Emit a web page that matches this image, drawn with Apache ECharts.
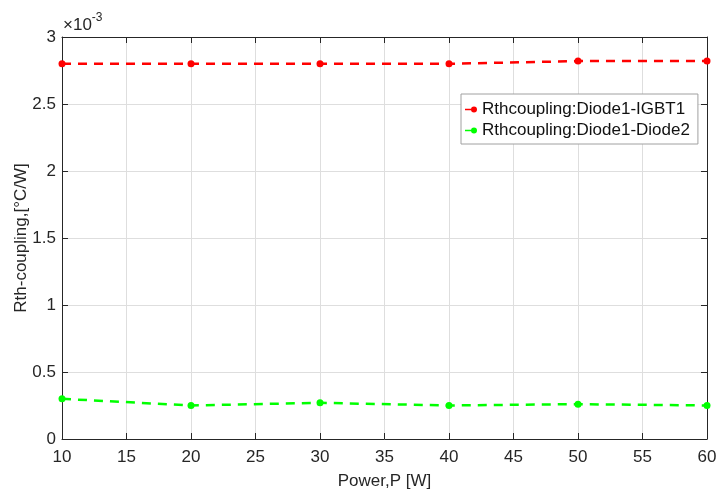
<!DOCTYPE html>
<html>
<head>
<meta charset="utf-8">
<script src="https://cdn.jsdelivr.net/npm/echarts@6/dist/echarts.min.js"></script>
<style>
  html, body { margin: 0; padding: 0; background: #fff; }
  #chart { width: 718px; height: 493px; }
</style>
</head>
<body>
<div id="chart"></div>
<script>
// Power levels (W)
const power = [10, 20, 30, 40, 50, 60];
// Thermal coupling resistance, °C/W
const diodeIgbt = [0.00280, 0.00280, 0.00280, 0.00280, 0.00282, 0.00282];
const diodeDiode = [0.00030, 0.00025, 0.00027, 0.00025, 0.00026, 0.00025];
const seriesNames = ['Rthcoupling:Diode1-IGBT1', 'Rthcoupling:Diode1-Diode2'];
const yScale = 1e-3;

const FONT = 'Liberation Sans, Arial, sans-serif';
const INK = '#262626';
// legend glyph: short line segment ending in a dot
const LINE_DOT = 'path://M0,2.2 L8,2.2 L8,3.8 L0,3.8 Z M9,0 A3,3 0 1 1 9,6 A3,3 0 1 1 9,0 Z';

const chart = echarts.init(document.getElementById('chart'), null, { renderer: 'canvas' });

const pairs = (ys) => power.map((p, i) => [p, ys[i]]);

const boxAxis = {
  axisLine: { show: true, onZero: false, lineStyle: { color: INK, width: 1 } },
  axisTick: { show: true, inside: true, length: 6, lineStyle: { color: INK } },
  axisLabel: { show: false },
  splitLine: { show: false }
};

chart.setOption({
  animation: false,
  backgroundColor: '#fff',
  grid: {
    left: 62, right: 11, top: 37, bottom: 54,
    containLabel: false, outerBoundsMode: 'none'
  },
  xAxis: [
    {
      type: 'value', min: 10, max: 60, interval: 5, position: 'bottom',
      name: 'Power,P [W]', nameLocation: 'middle', nameGap: 34, nameMoveOverlap: false,
      nameTextStyle: { fontFamily: FONT, fontSize: 17, color: INK },
      axisLine: { show: true, onZero: false, lineStyle: { color: INK, width: 1 } },
      axisTick: { show: true, inside: true, length: 6, lineStyle: { color: INK } },
      axisLabel: { fontFamily: FONT, fontSize: 17, color: INK, margin: 10 },
      splitLine: { show: true, lineStyle: { color: '#dedede', width: 1 } }
    },
    Object.assign({ type: 'value', min: 10, max: 60, interval: 5, position: 'top' }, boxAxis)
  ],
  yAxis: [
    {
      type: 'value', min: 0, max: 3 * yScale, interval: 0.5 * yScale, position: 'left',
      name: 'Rth-coupling,[°C/W]', nameLocation: 'middle', nameGap: 32, nameRotate: 90,
      nameMoveOverlap: false,
      nameTextStyle: { fontFamily: FONT, fontSize: 17, color: INK },
      axisLine: { show: true, onZero: false, lineStyle: { color: INK, width: 1 } },
      axisTick: { show: true, inside: true, length: 6, lineStyle: { color: INK } },
      axisLabel: {
        fontFamily: FONT, fontSize: 17, color: INK, margin: 6,
        formatter: (v) => String(Math.round(v / yScale * 10) / 10)
      },
      splitLine: { show: true, lineStyle: { color: '#dedede', width: 1 } }
    },
    Object.assign({ type: 'value', min: 0, max: 3 * yScale, interval: 0.5 * yScale, position: 'right' }, boxAxis)
  ],
  legend: {
    left: 461, top: 94,
    orient: 'vertical',
    itemWidth: 12, itemHeight: 6, itemGap: 4,
    padding: [7, 8, 5, 4],
    backgroundColor: '#fff',
    borderColor: '#a0a0a0', borderWidth: 1, borderRadius: 0,
    textStyle: { fontFamily: FONT, fontSize: 17, lineHeight: 17, color: '#111' },
    data: seriesNames.map((n) => ({ name: n, icon: LINE_DOT })),
    itemStyle: { borderWidth: 0 }
  },
  graphic: [{
    type: 'text', left: 63, top: 12,
    style: {
      text: '{m|×10}{s|-3}',
      rich: {
        m: { fontFamily: FONT, fontSize: 17, fill: INK, verticalAlign: 'bottom' },
        s: { fontFamily: FONT, fontSize: 12, fill: INK, verticalAlign: 'top', padding: [0, 0, 10, 0] }
      }
    }
  }],
  series: [
    {
      name: seriesNames[0], type: 'line', data: pairs(diodeIgbt),
      symbol: 'circle', symbolSize: 7, color: '#ff0000',
      lineStyle: { width: 2.5, type: [9, 7], color: '#ff0000' },
      itemStyle: { color: '#ff0000' }
    },
    {
      name: seriesNames[1], type: 'line', data: pairs(diodeDiode),
      symbol: 'circle', symbolSize: 7, color: '#00ff00',
      lineStyle: { width: 2.5, type: [9, 7], color: '#00ff00' },
      itemStyle: { color: '#00ff00' }
    }
  ]
});
</script>
</body>
</html>
